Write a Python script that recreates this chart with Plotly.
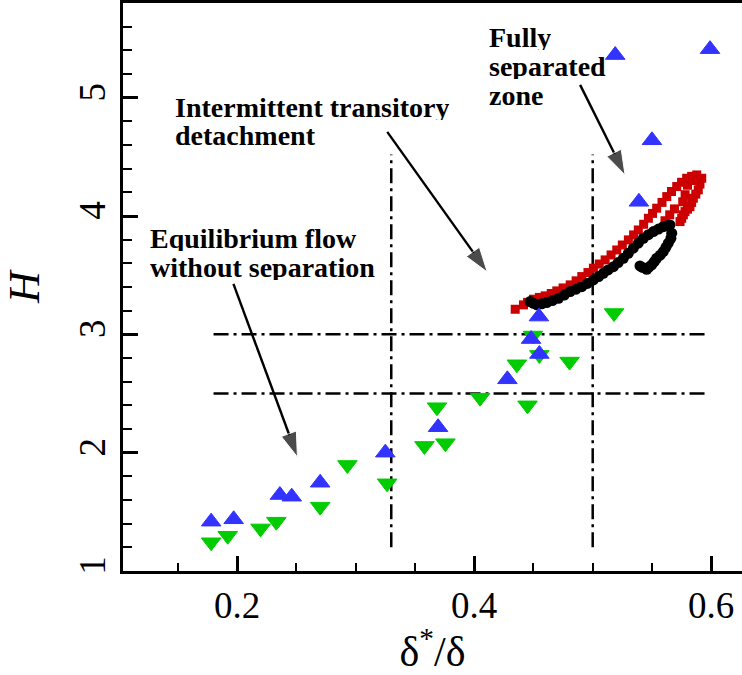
import plotly.graph_objects as go

# ---------------- data ----------------
# Blue up-triangles
blue_x = [0.178, 0.197, 0.236, 0.246, 0.270, 0.325, 0.3695, 0.428, 0.448,
          0.4546, 0.455, 0.519, 0.539, 0.550, 0.599]
blue_h = [1.417, 1.437, 1.642, 1.628, 1.746, 2.00, 2.215, 2.62, 2.96,
          3.15, 2.834, 5.36, 4.12, 4.64, 5.41]

# Green down-triangles
green_x = [0.178, 0.192, 0.2197, 0.233, 0.270, 0.293, 0.3265, 0.358, 0.3686,
           0.3757, 0.405, 0.436, 0.445, 0.4496, 0.455, 0.4805, 0.518]
green_h = [1.243, 1.298, 1.36, 1.417, 1.544, 1.896, 1.741, 2.057, 2.384,
           2.08, 2.465, 2.747, 2.40, 2.99, 2.826, 2.77, 3.18]

# Red squares (loop)
red_x = [0.4346, 0.4416, 0.4450, 0.4500, 0.4550, 0.4599, 0.4650, 0.4697, 0.4750,
         0.4810, 0.4860, 0.4908, 0.4960, 0.5006, 0.5055, 0.5105, 0.5155, 0.5203,
         0.5250, 0.5301, 0.5345, 0.5385, 0.5430, 0.5470, 0.5505, 0.5540, 0.5585,
         0.5625, 0.5665, 0.5709, 0.5750, 0.5793, 0.5835, 0.5878, 0.5920, 0.5905,
         0.5891, 0.5870, 0.5849, 0.5835, 0.5821, 0.5800, 0.5779, 0.5765, 0.5751,
         0.5737, 0.5780, 0.5760, 0.5800, 0.5690, 0.5650, 0.5610, 0.5820, 0.5860]
red_h = [3.212, 3.249, 3.270, 3.297, 3.312, 3.325, 3.345, 3.367, 3.392,
         3.418, 3.452, 3.488, 3.522, 3.559, 3.594, 3.629, 3.671, 3.713,
         3.755, 3.798, 3.840, 3.882, 3.930, 3.981, 4.022, 4.066, 4.115,
         4.164, 4.207, 4.249, 4.285, 4.319, 4.335, 4.347, 4.319, 4.270,
         4.221, 4.185, 4.150, 4.115, 4.079, 4.058, 4.037, 4.010, 3.981,
         3.953, 4.180, 4.120, 4.260, 4.060, 4.010, 3.960, 4.300, 4.300]

# Black circles (curve with hook)
black_x = [0.4472, 0.4500, 0.4529, 0.4570, 0.4613, 0.4660, 0.4711, 0.4760, 0.4810,
           0.4860, 0.4908, 0.4955, 0.5006, 0.5050, 0.5090, 0.5130, 0.5175, 0.5215,
           0.5259, 0.5300, 0.5343, 0.5385, 0.5428, 0.5470, 0.5512, 0.5555, 0.5596,
           0.5625, 0.5652, 0.5667, 0.5660, 0.5638, 0.5618, 0.5596, 0.5570, 0.5540,
           0.5520, 0.5498, 0.5475, 0.5456, 0.5420, 0.5399]
black_h = [3.277, 3.262, 3.249, 3.258, 3.268, 3.285, 3.305, 3.332, 3.361,
           3.382, 3.403, 3.430, 3.460, 3.488, 3.516, 3.544, 3.572, 3.606,
           3.643, 3.685, 3.728, 3.770, 3.812, 3.842, 3.868, 3.890, 3.910,
           3.918, 3.925, 3.855, 3.812, 3.770, 3.735, 3.699, 3.670, 3.643,
           3.615, 3.587, 3.568, 3.550, 3.565, 3.578]

# Threshold lines
h_levels = [3.0, 2.5]
h_line_x = [0.18, 0.595]
v_levels = [0.33, 0.5]
v_line_h = [1.2, 4.52]

# Annotation labels: (lines, x-left, centre H of each line)
labels = [
    (["Fully", "separated", "zone"], 0.4110, [5.510, 5.268, 5.026]),
    (["Intermittent transitory", "detachment"], 0.1455, [4.925, 4.683]),
    (["Equilibrium flow", "without separation"], 0.1245, [3.810, 3.568]),
]
# Arrows: (tail x, tail H, head x, head H)
arrows = [
    (0.4894, 5.108, 0.5273, 4.347),
    (0.3266, 4.711, 0.4110, 3.527),
    (0.1968, 3.426, 0.2508, 1.964),
]

FONT = "Liberation Serif"
DASH = "15px,5px,3px,5px"

fig = go.Figure()

for h in h_levels:
    fig.add_trace(go.Scatter(x=h_line_x, y=[h, h], mode="lines",
                             line=dict(color="black", width=2.5, dash=DASH),
                             hoverinfo="skip"))
for v in v_levels:
    fig.add_trace(go.Scatter(x=[v, v], y=v_line_h, mode="lines",
                             line=dict(color="black", width=2.5, dash=DASH),
                             hoverinfo="skip"))

fig.add_trace(go.Scatter(x=red_x, y=red_h, mode="markers",
                         marker=dict(symbol="square", size=9, color="#cc0000"),
                         name="red"))
fig.add_trace(go.Scatter(x=black_x, y=black_h, mode="markers",
                         marker=dict(symbol="circle", size=11, color="black"),
                         name="black"))
fig.add_trace(go.Scatter(x=green_x, y=green_h, mode="markers",
                         marker=dict(symbol="triangle-down", size=17, color="#00cc00",
                                     line=dict(width=1, color="#00cc00")),
                         name="green"))
fig.add_trace(go.Scatter(x=blue_x, y=blue_h, mode="markers",
                         marker=dict(symbol="triangle-up", size=17, color="#3333ff",
                                     line=dict(width=1, color="#3333ff")),
                         name="blue"))

for tx, th, hx, hh in arrows:
    fig.add_trace(go.Scatter(x=[tx, hx], y=[th, hh], mode="lines+markers",
                             line=dict(color="black", width=2.4),
                             marker=dict(symbol=["circle", "arrow"], size=[1, 26],
                                         angleref="previous", color="black"),
                             hoverinfo="skip"))

for lines, lx, hs in labels:
    for txt, hy in zip(lines, hs):
        fig.add_annotation(x=lx, y=hy, xref="x", yref="y", text="<b>%s</b>" % txt,
                           showarrow=False, xanchor="left", yanchor="middle",
                           height=26, valign="middle",
                           font=dict(family=FONT, size=28, color="black"))

fig.update_layout(
    width=742, height=675,
    margin=dict(l=123, r=0, t=3, b=104),
    plot_bgcolor="white", paper_bgcolor="white",
    showlegend=False,
    font=dict(family=FONT, color="black"),
)
fig.update_xaxes(
    range=[0.1036, 0.626], tick0=0, dtick=0.2,
    ticks="inside", ticklen=15, tickwidth=3, tickcolor="black",
    minor=dict(dtick=0.05, ticks="inside", ticklen=8, tickwidth=1.5, tickcolor="black"),
    showline=True, linewidth=3, linecolor="black", mirror=True,
    showgrid=False, zeroline=False,
    tickfont=dict(family=FONT, size=37, color="black"),
    title=dict(text="δ<sup>*</sup>/δ", font=dict(family=FONT, size=42, color="black"),
               standoff=4),
)
fig.update_yaxes(
    range=[1, 5.8], tick0=0, dtick=1,
    ticks="inside", ticklen=15, tickwidth=3, tickcolor="black",
    minor=dict(dtick=0.2, ticks="inside", ticklen=9, tickwidth=1.5, tickcolor="black"),
    showline=True, linewidth=3, linecolor="black", mirror=False,
    showgrid=False, zeroline=False,
    tickangle=-90,
    tickfont=dict(family=FONT, size=37, color="black"),
    title=dict(text="<i>H</i>", font=dict(family=FONT, size=44, color="black"),
               standoff=30),
)

fig.write_html("out.html")
